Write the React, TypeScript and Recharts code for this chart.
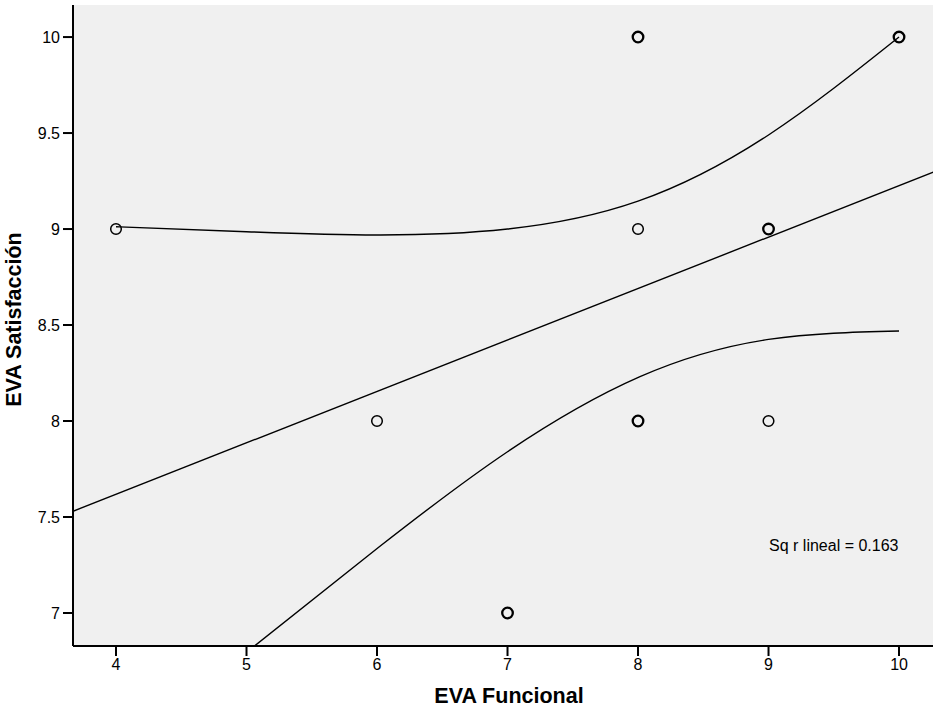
import React from 'react';
import { ComposedChart, Scatter, Line, XAxis, YAxis, CartesianGrid, ReferenceDot } from 'recharts';

// observed points
const pointX = [4, 6, 7, 8, 8, 8, 9, 9, 10];
const pointY = [9, 8, 7, 10, 9, 8, 9, 8, 10];
const pointCount = [1, 1, 2, 2, 1, 2, 2, 1, 2];

// linear fit line
const fitX = [3.6705, 10.291];
const fitY = [7.53, 9.304];

// upper curve
const upperX = [4, 5, 6, 7, 8, 9, 10];
const upperY = [9.012, 8.986, 8.969, 9.0, 9.145, 9.49, 10.0];

// lower curve
const lowerX = [5.065, 6.02, 7, 8.015, 9, 10];
const lowerY = [6.83, 7.346, 7.84, 8.231, 8.425, 8.469];

const xTicks = [4, 5, 6, 7, 8, 9, 10];
const yTicks = [7, 7.5, 8, 8.5, 9, 9.5, 10];
const xDomain = [3.6705, 10.291];
const yDomain = [6.828, 10.167];

const xTitle = 'EVA Funcional';
const yTitle = 'EVA Satisfacción';
const annotation = 'Sq r lineal = 0.163';
const annotationPos = { x: 9.5, y: 7.354 };

const points = pointX.map((x, i) => ({ x, y: pointY[i], n: pointCount[i] }));
const fitData = fitX.map((x, i) => ({ x, y: fitY[i] }));
const upperData = upperX.map((x, i) => ({ x, y: upperY[i] }));
const lowerData = lowerX.map((x, i) => ({ x, y: lowerY[i] }));

const FONT = 'Arial, "Liberation Sans", sans-serif';
const tickStyle = { fontSize: 16, fill: '#000', fontFamily: FONT };

const CircleShape = (props: any) => {
  const { cx, cy, payload } = props;
  if (cx == null || cy == null) return null;
  const sw = payload && payload.n > 1 ? 2.3 : 1.5;
  return <circle cx={cx} cy={cy} r={5.3} fill="none" stroke="#000" strokeWidth={sw} />;
};

export default function App() {
  return (
    <div style={{ position: 'absolute', left: 0, top: 0, width: 933, height: 708, overflow: 'hidden', background: '#fff' }}>
      <ComposedChart width={945} height={708} margin={{ top: 5, right: 8, bottom: 0, left: 0 }}>
        <CartesianGrid horizontal={false} vertical={false} fill="#f0f0f0" />
        <XAxis
          xAxisId="top"
          orientation="top"
          type="number"
          dataKey="x"
          domain={xDomain}
          allowDataOverflow
          height={0}
          tick={false}
          tickLine={false}
          axisLine={{ stroke: '#111', strokeWidth: 2 }}
        />
        <XAxis
          type="number"
          dataKey="x"
          domain={xDomain}
          allowDataOverflow
          ticks={xTicks}
          height={62}
          tickSize={10}
          tickMargin={3}
          tick={tickStyle}
          tickLine={{ stroke: '#000', strokeWidth: 2 }}
          axisLine={{ stroke: '#000', strokeWidth: 2 }}
          label={{
            content: (p: any) => {
              const vb = p.viewBox || { x: 73, y: 646, width: 864, height: 62 };
              return (
                <text x={vb.x + vb.width / 2 + 4} y={vb.y + 57} textAnchor="middle" fontSize={21.5} fontWeight="bold" fontFamily={FONT} fill="#000">
                  {xTitle}
                </text>
              );
            },
          }}
        />
        <YAxis
          type="number"
          dataKey="y"
          domain={yDomain}
          allowDataOverflow
          ticks={yTicks}
          width={73}
          tickSize={10}
          tickMargin={3}
          tick={tickStyle}
          tickLine={{ stroke: '#000', strokeWidth: 2 }}
          axisLine={{ stroke: '#000', strokeWidth: 2 }}
          label={{
            content: (p: any) => {
              const vb = p.viewBox || { x: 0, y: 5, width: 73, height: 641 };
              const cx = vb.x + 20.5;
              const cy = vb.y + vb.height / 2 - 6;
              return (
                <text x={cx} y={cy} transform={`rotate(-90, ${cx}, ${cy})`} textAnchor="middle" fontSize={21.5} fontWeight="bold" fontFamily={FONT} fill="#000">
                  {yTitle}
                </text>
              );
            },
          }}
        />
        <Line data={fitData} dataKey="y" type="linear" stroke="#000" strokeWidth={1.4} dot={false} activeDot={false} isAnimationActive={false} />
        <Line data={upperData} dataKey="y" type="natural" stroke="#000" strokeWidth={1.4} dot={false} activeDot={false} isAnimationActive={false} />
        <Line data={lowerData} dataKey="y" type="natural" stroke="#000" strokeWidth={1.4} dot={false} activeDot={false} isAnimationActive={false} />
        <Scatter data={points} dataKey="y" shape={CircleShape} isAnimationActive={false} />
        <ReferenceDot
          x={annotationPos.x}
          y={annotationPos.y}
          r={0}
          fill="none"
          stroke="none"
          label={{ value: annotation, position: 'center', fontSize: 16, fill: '#000', fontFamily: FONT }}
        />
      </ComposedChart>
    </div>
  );
}
